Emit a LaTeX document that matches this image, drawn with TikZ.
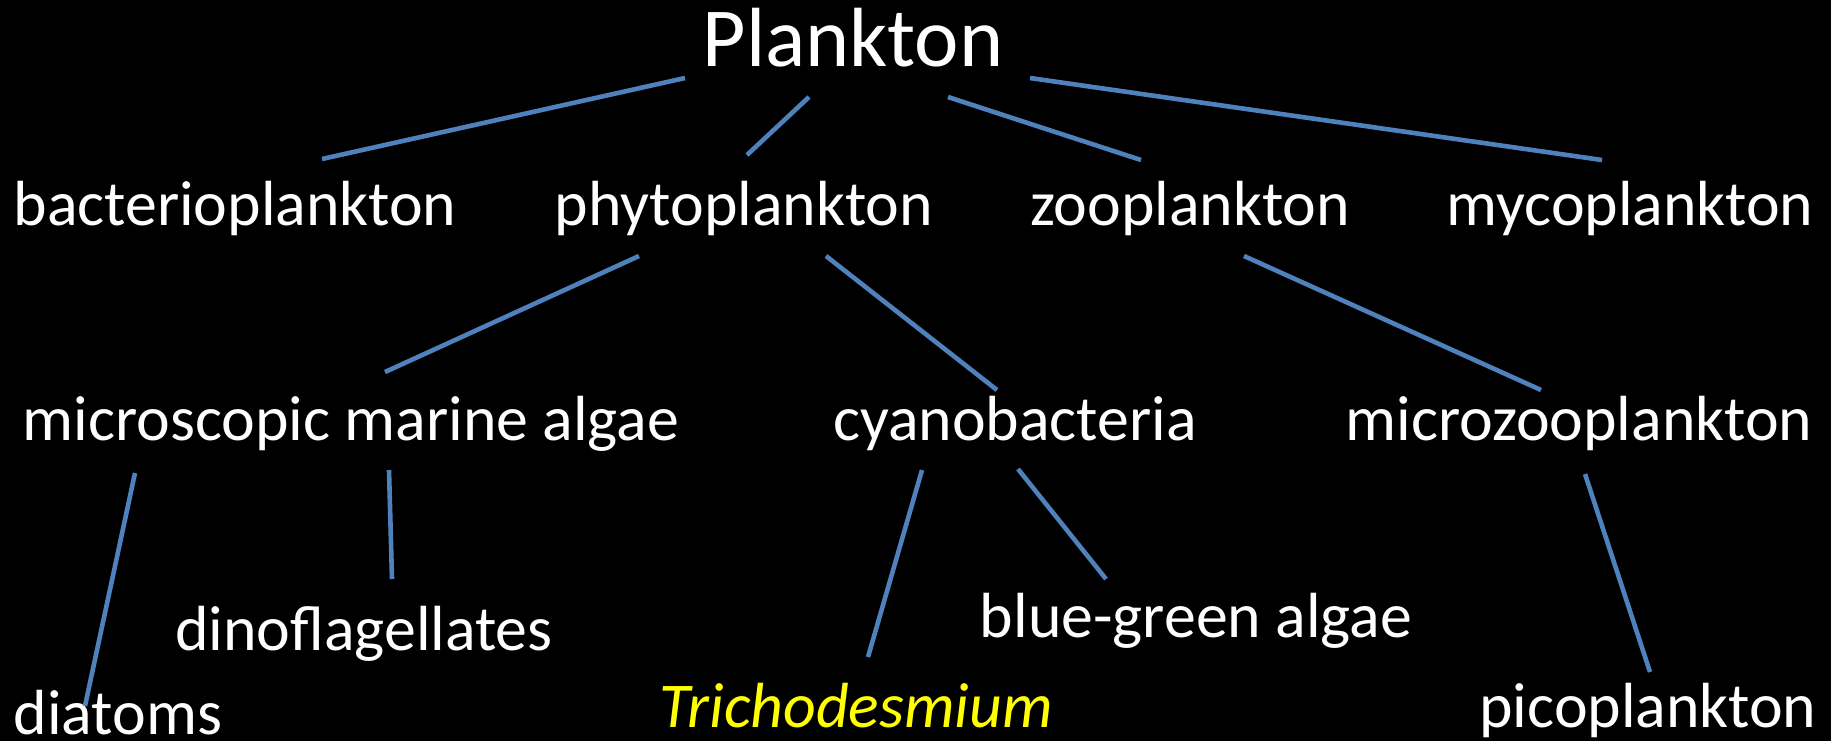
\documentclass[tikz,border=0pt]{standalone}
\usepackage{fontspec}
\setmainfont{Carlito}
\definecolor{linkblue}{RGB}{79,129,189}
\definecolor{hiyellow}{RGB}{255,255,0}
\tikzset{
  lbl/.style={anchor=base, inner sep=0pt, text=white, font=\fontsize{31.9}{36}\selectfont},
  title/.style={anchor=base, inner sep=0pt, text=white, font=\fontsize{42}{48}\selectfont},
  link/.style={draw=linkblue, line width=2.3pt}
}
\begin{document}
\begin{tikzpicture}[x=0.5pt,y=-0.5pt]
\fill[black] (0,0) rectangle (1831,741);
\useasboundingbox (0,0) rectangle (1831,741);
% nodes
\node[title] (plankton) at (853,66) {Plankton};
\node[lbl] (bacterio) at (235,225) {bacterioplankton};
\node[lbl] (phyto) at (744,225) {phytoplankton};
\node[lbl] (zoo) at (1190,225) {zooplankton};
\node[lbl] (myco) at (1630,225) {mycoplankton};
\node[lbl] (micro) at (351,440) {microscopic marine algae};
\node[lbl] (cyano) at (1015,440) {cyanobacteria};
\node[lbl] (microzoo) at (1579,440) {microzooplankton};
\node[lbl] (dino) at (364,650) {dinoflagellates};
\node[lbl] (bluegreen) at (1196,637) {blue-green algae};
\node[lbl] (diatoms) at (118,734) {diatoms};
\node[lbl, text=hiyellow, font=\fontsize{31.9}{36}\selectfont\itshape] (tricho) at (856,727) {Trichodesmium};
\node[lbl] (pico) at (1648,727) {picoplankton};
% connector end points
\coordinate (pl-b) at (685,78);   \coordinate (b-pl) at (322,159);
\coordinate (pl-p) at (809,97);   \coordinate (p-pl) at (747,155);
\coordinate (pl-z) at (948,97);   \coordinate (z-pl) at (1141,160);
\coordinate (pl-m) at (1030,78);  \coordinate (m-pl) at (1602,160);
\coordinate (p-mi) at (639,256);  \coordinate (mi-p) at (385,372);
\coordinate (p-c) at (826,256);   \coordinate (c-p) at (997,390);
\coordinate (z-mz) at (1244,256); \coordinate (mz-z) at (1541,390);
\coordinate (mi-d) at (135,473);  \coordinate (d-mi) at (85,706);
\coordinate (mi-di) at (389,470); \coordinate (di-mi) at (392,579);
\coordinate (c-t) at (922,470);   \coordinate (t-c) at (868,657);
\coordinate (c-bg) at (1018,469); \coordinate (bg-c) at (1106,579);
\coordinate (mz-pi) at (1585,474);\coordinate (pi-mz) at (1650,672);
% connectors
\draw[link] (pl-b) -- (b-pl);
\draw[link] (pl-p) -- (p-pl);
\draw[link] (pl-z) -- (z-pl);
\draw[link] (pl-m) -- (m-pl);
\draw[link] (p-mi) -- (mi-p);
\draw[link] (p-c) -- (c-p);
\draw[link] (z-mz) -- (mz-z);
\draw[link] (mi-d) -- (d-mi);
\draw[link] (mi-di) -- (di-mi);
\draw[link] (c-t) -- (t-c);
\draw[link] (c-bg) -- (bg-c);
\draw[link] (mz-pi) -- (pi-mz);
\end{tikzpicture}
\end{document}
